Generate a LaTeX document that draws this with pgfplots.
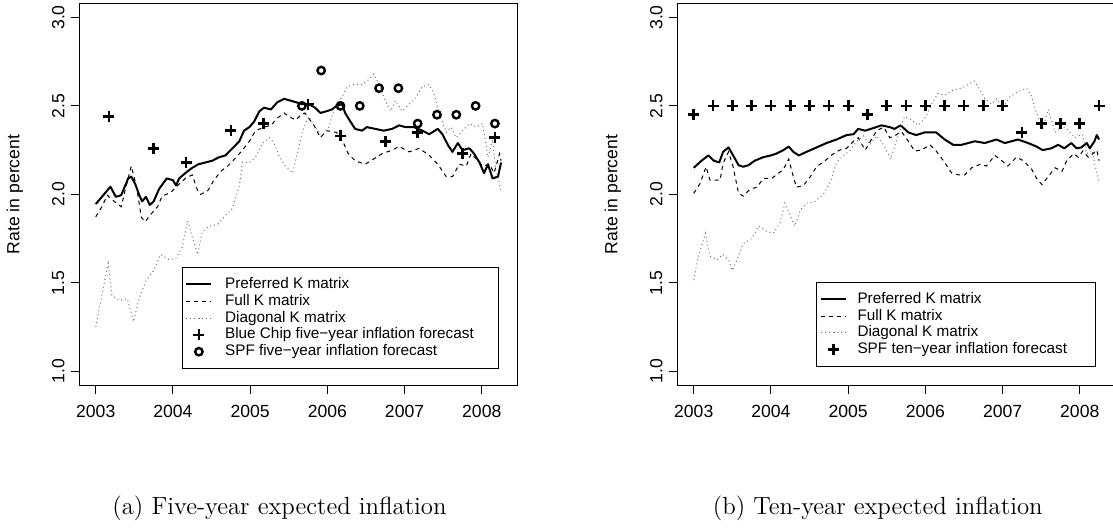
\documentclass[border=0pt]{standalone}
\usepackage{fontspec}
\usepackage{pgfplots}
\pgfplotsset{compat=1.18}
\newfontfamily\rfont{Liberation Sans}
\pgfplotsset{
  rstyle/.style={
    scale only axis, width=219pt, height=191.2pt,
    xmin=2002.787, xmax=2008.46, ymin=0.918, ymax=3.08,
    xtick={2003,2004,2005,2006,2007,2008},
    xticklabels={2003,2004,2005,2006,2007,2008},
    ytick={1,1.5,2,2.5,3}, yticklabels={1.0,1.5,2.0,2.5,3.0},
    /pgf/number format/assume math mode=true,
    tick align=outside, xtick pos=bottom, ytick pos=left,
    major tick length=4.3pt,
    every tick/.style={black, line width=0.5pt},
    axis line style={line width=0.5pt},
    tick label style={font=\rfont\fontsize{8.8}{10}\selectfont},
    xticklabel style={anchor=center},
    xticklabel shift=8.5pt,
    yticklabel style={rotate=90, anchor=center},
    yticklabel shift=6.25pt,
    ylabel={Rate in percent},
    every axis y label/.style={at={(axis description cs:-0.147,0.5)}, rotate=90, anchor=center, font=\rfont\fontsize{8.8}{10}\selectfont},
    legend image code/.code={\draw[mark repeat=2,mark phase=2,##1] plot coordinates {(0pt,0pt) (6.25pt,0pt) (12.5pt,0pt)};},
    legend cell align=left,
    legend style={anchor=south east, draw=black, line width=0.5pt, fill=white,
      font=\rfont\fontsize{7.65}{8.4}\selectfont,
      inner xsep=1.5pt, inner ysep=4.8pt, row sep=1.2pt, column sep=6.35pt,
      nodes={inner sep=0pt, text height=5.6pt, text depth=1.6pt}},
  },
  pref/.style={black, line width=1pt, line join=round},
  full/.style={black, line width=0.5pt, dash pattern=on 2pt off 2pt},
  diag/.style={black!55, line width=0.5pt, dash pattern=on 0.5pt off 1.5pt},
  plusm/.style={black, only marks, mark=+, mark size=2.75pt, mark options={line width=1.35pt, solid}},
  circm/.style={black, only marks, mark=o, mark size=1.85pt, mark options={line width=1.2pt, solid}},
}
\begin{document}
\begin{tikzpicture}
\path[use as bounding box] (0,0) rectangle (556.5pt,263.5pt);
\begin{axis}[rstyle, at={(39.65pt,70.65pt)}, anchor=south west,
  legend style={at={(axis description cs:0.958,0.0437)}}]
\addplot[pref] coordinates {
(2003.00,1.945) (2003.08,1.986) (2003.19,2.043) (2003.26,1.986) (2003.33,1.995)
(2003.42,2.09) (2003.46,2.10) (2003.51,2.06) (2003.56,2.00) (2003.60,1.96)
(2003.65,1.986) (2003.70,1.94) (2003.75,1.96) (2003.82,2.03) (2003.92,2.09)
(2004.00,2.08) (2004.04,2.05) (2004.08,2.09) (2004.16,2.12) (2004.25,2.15)
(2004.33,2.17) (2004.42,2.18) (2004.51,2.19) (2004.60,2.21) (2004.68,2.22)
(2004.77,2.26) (2004.86,2.30) (2004.92,2.36) (2004.99,2.38) (2005.05,2.41)
(2005.12,2.47) (2005.18,2.49) (2005.27,2.48) (2005.35,2.52) (2005.44,2.54)
(2005.52,2.53) (2005.60,2.52) (2005.67,2.51) (2005.76,2.51) (2005.84,2.49)
(2005.91,2.46) (2005.99,2.47) (2006.06,2.48) (2006.12,2.50) (2006.19,2.51)
(2006.23,2.46) (2006.30,2.41) (2006.36,2.37) (2006.45,2.36) (2006.51,2.38)
(2006.62,2.37) (2006.73,2.36) (2006.84,2.37) (2006.93,2.39) (2007.01,2.38)
(2007.12,2.38) (2007.23,2.36) (2007.32,2.34) (2007.43,2.37) (2007.49,2.34)
(2007.56,2.28) (2007.62,2.24) (2007.69,2.29) (2007.75,2.25) (2007.84,2.26)
(2007.90,2.23) (2007.97,2.18) (2008.03,2.12) (2008.08,2.17) (2008.14,2.09)
(2008.21,2.10) (2008.25,2.18)};
\addlegendentry{\makebox[135.15pt][l]{Preferred K matrix}}
\addplot[full] coordinates {
(2003.00,1.873) (2003.08,1.93) (2003.15,1.995) (2003.21,1.97) (2003.33,1.93)
(2003.39,2.04) (2003.46,2.16) (2003.53,2.04) (2003.59,1.87) (2003.64,1.845)
(2003.70,1.88) (2003.80,1.93) (2003.86,1.99) (2003.97,2.01) (2004.06,2.05)
(2004.16,2.09) (2004.25,2.11) (2004.32,2.02) (2004.36,2.00) (2004.45,2.02)
(2004.53,2.08) (2004.62,2.13) (2004.71,2.16) (2004.82,2.21) (2004.90,2.25)
(2004.99,2.30) (2005.07,2.36) (2005.18,2.38) (2005.27,2.39) (2005.35,2.43)
(2005.44,2.46) (2005.50,2.44) (2005.59,2.42) (2005.66,2.45) (2005.71,2.46)
(2005.84,2.38) (2005.91,2.32) (2005.99,2.36) (2006.12,2.35) (2006.20,2.30)
(2006.27,2.23) (2006.36,2.19) (2006.49,2.17) (2006.60,2.20) (2006.71,2.23)
(2006.84,2.25) (2006.93,2.27) (2007.06,2.24) (2007.19,2.26) (2007.32,2.22)
(2007.43,2.17) (2007.54,2.10) (2007.62,2.10) (2007.71,2.17) (2007.80,2.16)
(2007.86,2.23) (2007.95,2.19) (2008.01,2.16) (2008.10,2.17) (2008.16,2.12)
(2008.23,2.23) (2008.25,2.19)};
\addlegendentry{Full K matrix}
\addplot[diag] coordinates {
(2003.00,1.25) (2003.08,1.43) (2003.16,1.61) (2003.21,1.43) (2003.30,1.40)
(2003.41,1.41) (2003.49,1.28) (2003.56,1.41) (2003.65,1.51) (2003.75,1.57)
(2003.84,1.66) (2003.95,1.63) (2004.04,1.64) (2004.12,1.70) (2004.19,1.85)
(2004.25,1.76) (2004.32,1.66) (2004.38,1.79) (2004.47,1.82) (2004.58,1.83)
(2004.68,1.88) (2004.77,1.92) (2004.86,2.05) (2004.90,2.18) (2004.99,2.18)
(2005.07,2.21) (2005.16,2.29) (2005.25,2.32) (2005.31,2.29) (2005.38,2.21)
(2005.46,2.16) (2005.55,2.12) (2005.62,2.25) (2005.68,2.36) (2005.76,2.44)
(2005.84,2.38) (2005.93,2.33) (2006.02,2.38) (2006.10,2.50) (2006.19,2.55)
(2006.26,2.61) (2006.34,2.62) (2006.45,2.62) (2006.54,2.65) (2006.60,2.68)
(2006.67,2.62) (2006.75,2.53) (2006.82,2.47) (2006.88,2.53) (2006.97,2.47)
(2007.06,2.51) (2007.15,2.55) (2007.23,2.61) (2007.32,2.62) (2007.38,2.57)
(2007.45,2.46) (2007.54,2.35) (2007.60,2.38) (2007.67,2.32) (2007.75,2.36)
(2007.84,2.40) (2007.93,2.38) (2008.01,2.40) (2008.08,2.21) (2008.14,2.31)
(2008.18,2.14) (2008.23,2.06) (2008.25,2.01)};
\addlegendentry{Diagonal K matrix}
\addplot[plusm] coordinates {
(2003.17,2.44) (2003.75,2.26) (2004.17,2.18) (2004.75,2.36) (2005.17,2.40)
(2005.75,2.51) (2006.17,2.33) (2006.75,2.30) (2007.17,2.35) (2007.75,2.23)
(2008.17,2.32)};
\addlegendentry{Blue Chip five−year inflation forecast}
\addplot[circm] coordinates {
(2005.67,2.50) (2005.92,2.70) (2006.17,2.50) (2006.42,2.50) (2006.67,2.60)
(2006.92,2.60) (2007.17,2.40) (2007.42,2.45) (2007.67,2.45) (2007.92,2.50)
(2008.17,2.40)};
\addlegendentry{SPF five−year inflation forecast}
\end{axis}
\begin{axis}[rstyle, at={(338.65pt,70.65pt)}, anchor=south west,
  legend style={at={(axis description cs:0.956,0.049)}, inner xsep=2pt, column sep=5.25pt}]
\addplot[pref] coordinates {
(2003.00,2.15) (2003.10,2.19) (2003.19,2.22) (2003.26,2.19) (2003.33,2.18)
(2003.38,2.24) (2003.45,2.265) (2003.51,2.22) (2003.58,2.165) (2003.64,2.156)
(2003.71,2.165) (2003.79,2.19) (2003.90,2.21) (2004.00,2.22) (2004.07,2.23)
(2004.16,2.25) (2004.23,2.27) (2004.29,2.24) (2004.36,2.22) (2004.46,2.24)
(2004.59,2.265) (2004.72,2.29) (2004.85,2.31) (2004.98,2.335) (2005.07,2.34)
(2005.13,2.37) (2005.22,2.36) (2005.33,2.375) (2005.43,2.39) (2005.54,2.38)
(2005.60,2.37) (2005.68,2.39) (2005.78,2.35) (2005.88,2.335) (2005.99,2.35)
(2006.14,2.35) (2006.25,2.31) (2006.36,2.28) (2006.47,2.28) (2006.64,2.30)
(2006.77,2.29) (2006.92,2.31) (2007.03,2.29) (2007.20,2.31) (2007.33,2.29)
(2007.44,2.27) (2007.52,2.25) (2007.63,2.26) (2007.72,2.28) (2007.80,2.26)
(2007.89,2.29) (2007.96,2.26) (2008.02,2.265) (2008.09,2.29) (2008.13,2.26)
(2008.19,2.30) (2008.22,2.335) (2008.25,2.31)};
\addlegendentry{\makebox[117pt][l]{Preferred K matrix}}
\addplot[full] coordinates {
(2003.00,2.006) (2003.08,2.06) (2003.16,2.156) (2003.21,2.08) (2003.28,2.08)
(2003.34,2.08) (2003.38,2.175) (2003.45,2.24) (2003.51,2.156) (2003.58,2.006)
(2003.64,1.99) (2003.73,2.03) (2003.82,2.04) (2003.90,2.09) (2004.01,2.09)
(2004.10,2.12) (2004.16,2.14) (2004.23,2.20) (2004.29,2.10) (2004.33,2.04)
(2004.42,2.05) (2004.51,2.10) (2004.59,2.156) (2004.70,2.19) (2004.81,2.23)
(2004.89,2.25) (2004.98,2.26) (2005.07,2.30) (2005.13,2.32) (2005.22,2.25)
(2005.30,2.31) (2005.37,2.36) (2005.46,2.38) (2005.54,2.32) (2005.60,2.33)
(2005.69,2.355) (2005.78,2.30) (2005.86,2.245) (2005.95,2.25) (2006.06,2.28)
(2006.14,2.245) (2006.25,2.18) (2006.34,2.12) (2006.43,2.11) (2006.51,2.11)
(2006.60,2.15) (2006.71,2.17) (2006.79,2.16) (2006.90,2.22) (2006.99,2.19)
(2007.07,2.16) (2007.18,2.21) (2007.27,2.19) (2007.38,2.14) (2007.44,2.09)
(2007.51,2.055) (2007.59,2.10) (2007.68,2.15) (2007.77,2.13) (2007.83,2.19)
(2007.92,2.23) (2007.98,2.21) (2008.04,2.245) (2008.11,2.21) (2008.17,2.23)
(2008.22,2.25) (2008.25,2.19)};
\addlegendentry{Full K matrix}
\addplot[diag] coordinates {
(2003.00,1.515) (2003.06,1.65) (2003.15,1.78) (2003.21,1.65) (2003.30,1.63)
(2003.38,1.66) (2003.45,1.63) (2003.50,1.57) (2003.56,1.63) (2003.64,1.72)
(2003.75,1.75) (2003.84,1.82) (2003.95,1.79) (2004.03,1.78) (2004.12,1.84)
(2004.18,1.95) (2004.25,1.88) (2004.31,1.82) (2004.38,1.91) (2004.46,1.95)
(2004.57,1.96) (2004.68,2.00) (2004.77,2.07) (2004.85,2.18) (2004.94,2.22)
(2005.03,2.25) (2005.11,2.30) (2005.20,2.33) (2005.28,2.28) (2005.37,2.33)
(2005.46,2.28) (2005.55,2.20) (2005.63,2.31) (2005.73,2.44) (2005.82,2.42)
(2005.91,2.39) (2006.01,2.44) (2006.08,2.51) (2006.16,2.57) (2006.25,2.56)
(2006.36,2.59) (2006.47,2.60) (2006.55,2.62) (2006.63,2.64) (2006.71,2.59)
(2006.77,2.54) (2006.86,2.51) (2006.92,2.54) (2007.01,2.49) (2007.09,2.55)
(2007.20,2.58) (2007.31,2.60) (2007.37,2.56) (2007.44,2.46) (2007.52,2.37)
(2007.59,2.48) (2007.68,2.35) (2007.77,2.39) (2007.85,2.36) (2007.94,2.32)
(2008.03,2.34) (2008.09,2.23) (2008.16,2.25) (2008.20,2.16) (2008.25,2.07)};
\addlegendentry{Diagonal K matrix}
\addplot[plusm] coordinates {
(2003.00,2.45) (2003.25,2.50) (2003.50,2.50) (2003.75,2.50) (2004.00,2.50)
(2004.25,2.50) (2004.50,2.50) (2004.75,2.50) (2005.00,2.50) (2005.25,2.45)
(2005.50,2.50) (2005.75,2.50) (2006.00,2.50) (2006.25,2.50) (2006.50,2.50)
(2006.75,2.50) (2007.00,2.50) (2007.25,2.35) (2007.50,2.40) (2007.75,2.40)
(2008.00,2.40) (2008.25,2.50)};
\addlegendentry{SPF ten−year inflation forecast}
\end{axis}
\node[font=\fontsize{12.4}{14}\selectfont] at (139.75pt,9.5pt) {(a) Five-year expected inflation};
\node[font=\fontsize{12.4}{14}\selectfont] at (438.9pt,9.5pt) {(b) Ten-year expected inflation};
\end{tikzpicture}
\end{document}
